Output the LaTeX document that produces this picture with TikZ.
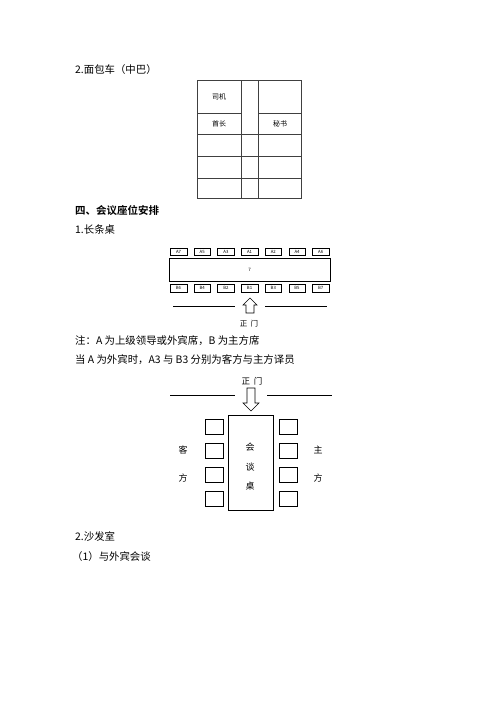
\documentclass[tikz,border=0pt]{standalone}
\usepackage{fontspec}
\newfontfamily\cjk{Noto Sans CJK SC}
\newfontfamily\cjkb{Noto Sans CJK SC Bold}
\begin{document}
\begin{tikzpicture}[x=1pt,y=-1pt,
  txt/.style={font=\cjk\fontsize{10.4}{12}\selectfont,anchor=west,inner sep=0pt},
  hd/.style={font=\cjkb\fontsize{10.5}{12}\selectfont,anchor=west,inner sep=0pt},
  lbl/.style={font=\cjk\fontsize{7}{8}\selectfont,inner sep=0pt},
  seat/.style={draw,line width=0.5pt,minimum width=16.5pt,minimum height=7.5pt,inner sep=0pt,font=\cjk\fontsize{4.3}{5}\selectfont},
  chair/.style={draw,line width=0.6pt,minimum width=18pt,minimum height=15pt,inner sep=0pt},
  grid/.style={line width=0.8pt,draw=black!75},
  ln/.style={line width=0.6pt}]
\useasboundingbox[fill=white] (0,0) rectangle (500,707);

% ---- van
\node[txt] (t1) at (75,70) {2.面包车（中巴）};
\draw[grid] (197,80) rectangle (301,198);
\draw[grid] (241,80) -- (241,198) (258,80) -- (258,198);
\draw[grid] (197,113) -- (241,113) (258,113) -- (301,113);
\draw[grid] (197,134) -- (301,134) (197,156) -- (301,156) (197,178) -- (301,178);
\node[lbl] (siji) at (219,97) {司机};
\node[lbl] (shouzhang) at (219,124) {首长};
\node[lbl] (mishu) at (280,124) {秘书};

% ---- heading
\node[hd] (h4) at (75,210) {四、会议座位安排};
\node[txt] (t2) at (75,230) {1.长条桌};

% ---- long table
\foreach \n [count=\i from 0] in {A7,A5,A3,A1,A2,A4,A6}
  \node[seat] (s\n) at ({178.5+23.7*\i},251.5) {\n};
\foreach \n [count=\i from 0] in {B6,B4,B2,B1,B3,B5,B7}
  \node[seat] (s\n) at ({178.5+23.7*\i},288) {\n};
\node[draw,line width=0.6pt,minimum width=161pt,minimum height=23pt,inner sep=0pt,font=\cjk\fontsize{4.5}{5}\selectfont] (ltable) at (249.5,269.5) {7};
\coordinate (l1a) at (173,306); \coordinate (l1b) at (235,306);
\coordinate (l2a) at (265,306); \coordinate (l2b) at (327,306);
\draw[ln] (l1a) -- (l1b); \draw[ln] (l2a) -- (l2b);
\draw[line width=0.6pt] (250,298) -- (257,305) -- (254,305) -- (254,313) -- (246,313) -- (246,305) -- (243,305) -- cycle;
\node[font=\cjk\fontsize{7.5}{8}\selectfont,inner sep=0pt] (door1) at (249,324) {正\ \ 门};

% ---- notes
\node[txt] (n1) at (75,341) {注：A 为上级领导或外宾席，B 为主方席};
\node[txt] (n2) at (75,360) {当 A 为外宾时，A3 与 B3 分别为客方与主方译员};

% ---- meeting table
\node[font=\cjk\fontsize{8.5}{9}\selectfont,inner sep=0pt] (door2) at (252,381) {正\ \ 门};
\coordinate (m1a) at (170,395); \coordinate (m1b) at (235,395);
\coordinate (m2a) at (267,395); \coordinate (m2b) at (332,395);
\draw[ln] (m1a) -- (m1b); \draw[ln] (m2a) -- (m2b);
\draw[line width=0.6pt] (247,388) -- (255,388) -- (255,403) -- (259,403) -- (251,411) -- (243,403) -- (247,403) -- cycle;
\node[draw,line width=0.7pt,minimum width=45pt,minimum height=95pt,inner sep=0pt] (mtable) at (250.5,462.5) {};
\node[font=\cjk\fontsize{9}{10}\selectfont,inner sep=0pt] (hui) at (250,447) {会};
\node[font=\cjk\fontsize{9}{10}\selectfont,inner sep=0pt] (tan) at (250,467) {谈};
\node[font=\cjk\fontsize{9}{10}\selectfont,inner sep=0pt] (zhuo) at (250,486) {桌};
\foreach \y [count=\i] in {426.5,450.5,474.5,499} {
  \node[chair] (cl\i) at (214,\y) {};
  \node[chair] (cr\i) at (288,\y) {};
}
\node[font=\cjk\fontsize{9}{10}\selectfont,inner sep=0pt] (ke) at (183,450) {客};
\node[font=\cjk\fontsize{9}{10}\selectfont,inner sep=0pt] (fang1) at (183,478) {方};
\node[font=\cjk\fontsize{9}{10}\selectfont,inner sep=0pt] (zhu) at (318,450) {主};
\node[font=\cjk\fontsize{9}{10}\selectfont,inner sep=0pt] (fang2) at (318,478) {方};

% ---- sofa
\node[txt] (t3) at (75,537) {2.沙发室};
\node[txt] (t4) at (72,557) {（1）与外宾会谈};
\end{tikzpicture}
\end{document}
